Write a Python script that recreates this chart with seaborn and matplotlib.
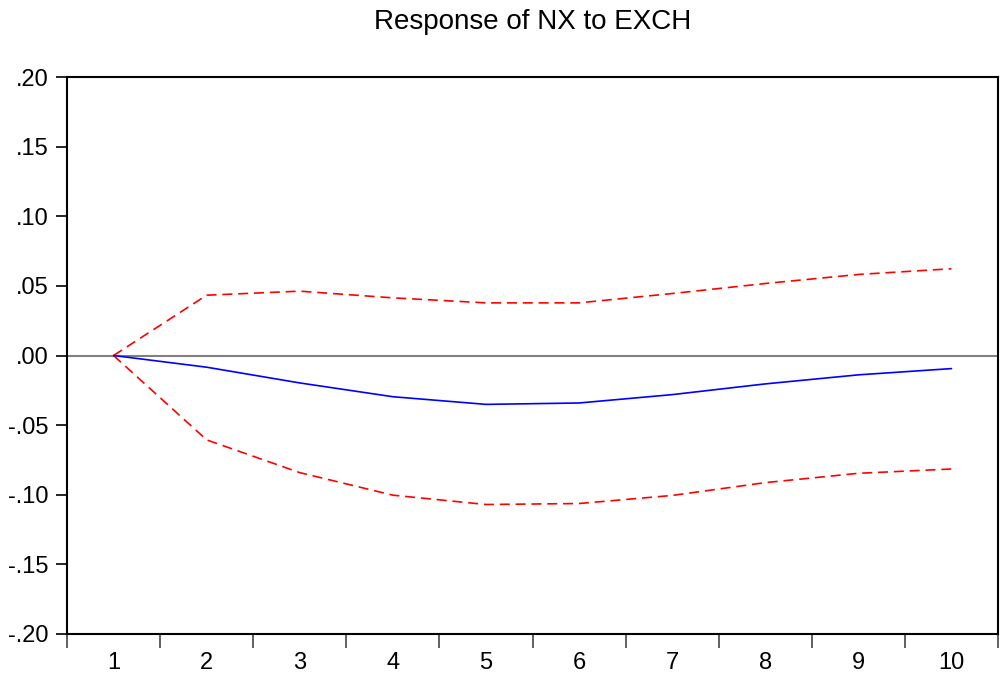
import matplotlib
matplotlib.use("Agg")
import matplotlib.pyplot as plt
import seaborn as sns
import pandas as pd
import numpy as np
from matplotlib.ticker import FixedLocator, FuncFormatter

periods = [1, 2, 3, 4, 5, 6, 7, 8, 9, 10]
response = [0.0, -0.0084, -0.0197, -0.0296, -0.0351, -0.0341, -0.0281, -0.0204, -0.0139, -0.0094]
upper = [0.0, 0.0433, 0.0462, 0.0414, 0.0378, 0.0378, 0.0445, 0.0517, 0.0582, 0.0623]
lower = [0.0, -0.0606, -0.0841, -0.1003, -0.1070, -0.1063, -0.1005, -0.0913, -0.0846, -0.0815]
ytick_vals = [-0.20, -0.15, -0.10, -0.05, 0.00, 0.05, 0.10, 0.15, 0.20]
title = "Response of NX to EXCH"

sns.set_theme(style="white")
plt.rcParams['font.family'] = ['Liberation Sans', 'DejaVu Sans']

df = pd.DataFrame({"period": periods, "response": response, "upper": upper, "lower": lower})

fig = plt.figure(figsize=(10.02, 6.79), dpi=100)
ax = fig.add_axes([67/1002, 1 - 634/679, (998-67)/1002, (634-77)/679])

ax.axhline(0, color="#808080", lw=1.5, zorder=1)
sns.lineplot(data=df, x="period", y="upper", ax=ax, color="red", lw=1.2, zorder=3)
sns.lineplot(data=df, x="period", y="lower", ax=ax, color="red", lw=1.2, zorder=3)
sns.lineplot(data=df, x="period", y="response", ax=ax, color="blue", lw=1.2, zorder=4)
for ln in ax.lines[1:3]:
    ln.set_linestyle((0, (6, 3.5)))

ax.set_xlim(0.5, 10.5)
ax.set_ylim(-0.20, 0.20)
ax.set_xlabel("")
ax.set_ylabel("")

ax.xaxis.set_major_locator(FixedLocator(periods))
ax.set_xticklabels([str(p) for p in periods])
ax.xaxis.set_minor_locator(FixedLocator([p - 0.5 for p in periods] + [10.5]))
ax.tick_params(axis="x", which="major", length=0, pad=13, labelsize=17, colors="black")
ax.tick_params(axis="x", which="minor", length=10, width=1.2, direction="out", color="#444444", bottom=True)

ax.yaxis.set_major_locator(FixedLocator(ytick_vals))
def fmt(v, pos):
    s = f"{v:.2f}"
    s = s.replace("0.", ".")
    if s == "-.00":
        s = ".00"
    return s
ax.yaxis.set_major_formatter(FuncFormatter(fmt))
ax.tick_params(axis="y", which="major", length=8, width=1.2, direction="out", left=True, labelsize=17, colors="black", pad=5)

for sp in ax.spines.values():
    sp.set_visible(True)
    sp.set_color("black")
    sp.set_linewidth(1.5)

fig.text((67+998)/2/1002, 1 - 22/679, title, ha="center", va="center", fontsize=20, color="black")

fig.savefig("out.png", dpi=100)
